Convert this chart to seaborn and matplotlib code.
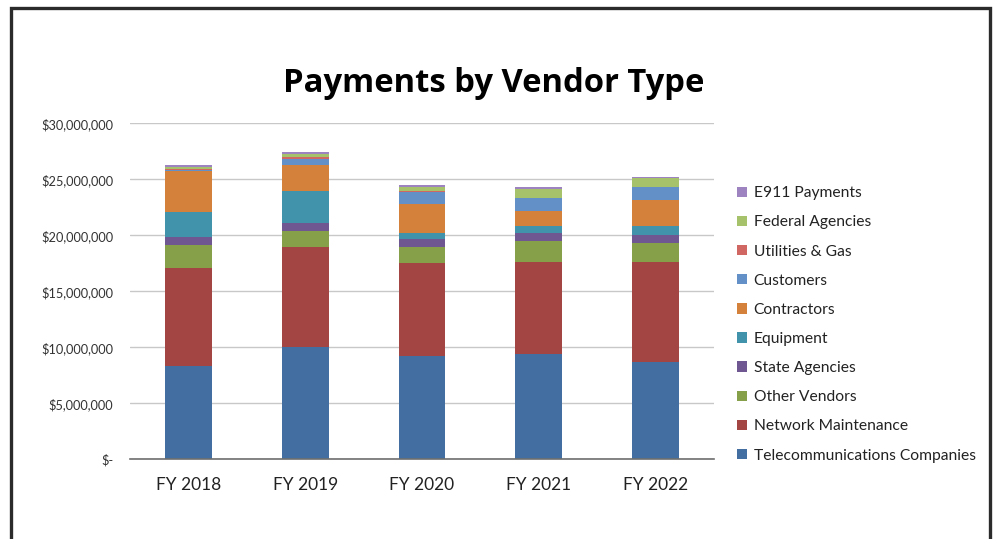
import pandas as pd
import matplotlib
matplotlib.use("Agg")
import matplotlib.pyplot as plt
import matplotlib.ticker as mticker
from matplotlib.patches import Patch, Rectangle
import seaborn as sns

years = ["FY 2018", "FY 2019", "FY 2020", "FY 2021", "FY 2022"]

# values in $ millions, bottom of the stack first
telecom = [8.36, 10.03, 9.20, 9.40, 8.72]
network = [8.72, 8.93, 8.33, 8.22, 8.90]
other_vendors = [2.06, 1.43, 1.43, 1.90, 1.73]
state_agencies = [0.74, 0.74, 0.74, 0.69, 0.68]
equipment = [2.23, 2.86, 0.51, 0.65, 0.83]
contractors = [3.63, 2.26, 2.62, 1.31, 2.29]
customers = [0.12, 0.57, 1.07, 1.16, 1.14]
utilities = [0.06, 0.20, 0.02, 0.02, 0.02]
federal = [0.15, 0.24, 0.42, 0.82, 0.77]
e911 = [0.20, 0.15, 0.14, 0.12, 0.09]

series = {
    "Telecommunications Companies": telecom,
    "Network Maintenance": network,
    "Other Vendors": other_vendors,
    "State Agencies": state_agencies,
    "Equipment": equipment,
    "Contractors": contractors,
    "Customers": customers,
    "Utilities & Gas": utilities,
    "Federal Agencies": federal,
    "E911 Payments": e911,
}
colors = ["#436EA1", "#A34542", "#86A04A", "#6F5891", "#4193AB",
          "#D4813C", "#6490C8", "#D06763", "#A6C26A", "#9D84C0"]

df = pd.DataFrame(series, index=years) * 1e6
cum = df.cumsum(axis=1)

sns.set_style("white")
plt.rcParams["font.family"] = ["Lato", "DejaVu Sans"]

fig = plt.figure(figsize=(9.93, 5.39), dpi=100)
ax = fig.add_axes([130 / 993, 1 - 459.3 / 539, 584 / 993, 336 / 539])

# draw cumulative totals from the top series down so lower ones cover them
for name, c in reversed(list(zip(df.columns, colors))):
    sns.barplot(x=years, y=cum[name].values, color=c, width=0.4,
                saturation=1, linewidth=0, ax=ax, zorder=3)

ax.set_xlim(-0.5, 4.5)
ax.set_ylim(0, 30e6)
ax.set_yticks(range(0, 30000001, 5000000))
ax.yaxis.set_major_formatter(mticker.FuncFormatter(
    lambda v, p: "$-" if v == 0 else f"${v:,.0f}"))
ax.grid(axis="y", color="#C8C8C8", linewidth=1, zorder=0)
ax.set_axisbelow(True)
for s in ["top", "right", "left"]:
    ax.spines[s].set_visible(False)
ax.spines["bottom"].set_color("#6E6E6E")
ax.spines["bottom"].set_linewidth(1.2)
ax.spines["bottom"].set_zorder(4)

ax.tick_params(axis="y", length=0, labelsize=9.2, labelcolor="#333333", pad=12)
ax.tick_params(axis="x", which="major", direction="inout", length=9, width=1,
               color="#333333", labelsize=12.5, labelcolor="#222222", pad=8)
ax.set_xticks([-0.5, 0.5, 1.5, 2.5, 3.5, 4.5], minor=True)
ax.tick_params(axis="x", which="minor", direction="inout", length=12, width=1,
               color="#333333")
ax.set_xlabel("")
ax.set_ylabel("")

fig.text(0.497, 0.845, "Payments by Vendor Type", ha="center", va="center",
         fontsize=23.6, fontweight="bold", color="#000000",
         family=["Open Sans", "DejaVu Sans"])

handles = [Patch(facecolor=c, edgecolor="none", label=n)
           for n, c in zip(df.columns, colors)][::-1]
fig.legend(handles=handles, loc="upper left",
           bbox_to_anchor=(731 / 993, 1 - 180 / 539),
           frameon=False, fontsize=11.25, handlelength=0.65, handleheight=0.65,
           handletextpad=0.4, labelspacing=0.97, borderaxespad=0,
           labelcolor="#222222")

fig.patches.append(Rectangle((10.5 / 993, -0.05), 979 / 993, 1.05 - 7.5 / 539,
                             transform=fig.transFigure, fill=False,
                             edgecolor="#2B2B2B", linewidth=2.4))

fig.savefig("out.png", dpi=100)
